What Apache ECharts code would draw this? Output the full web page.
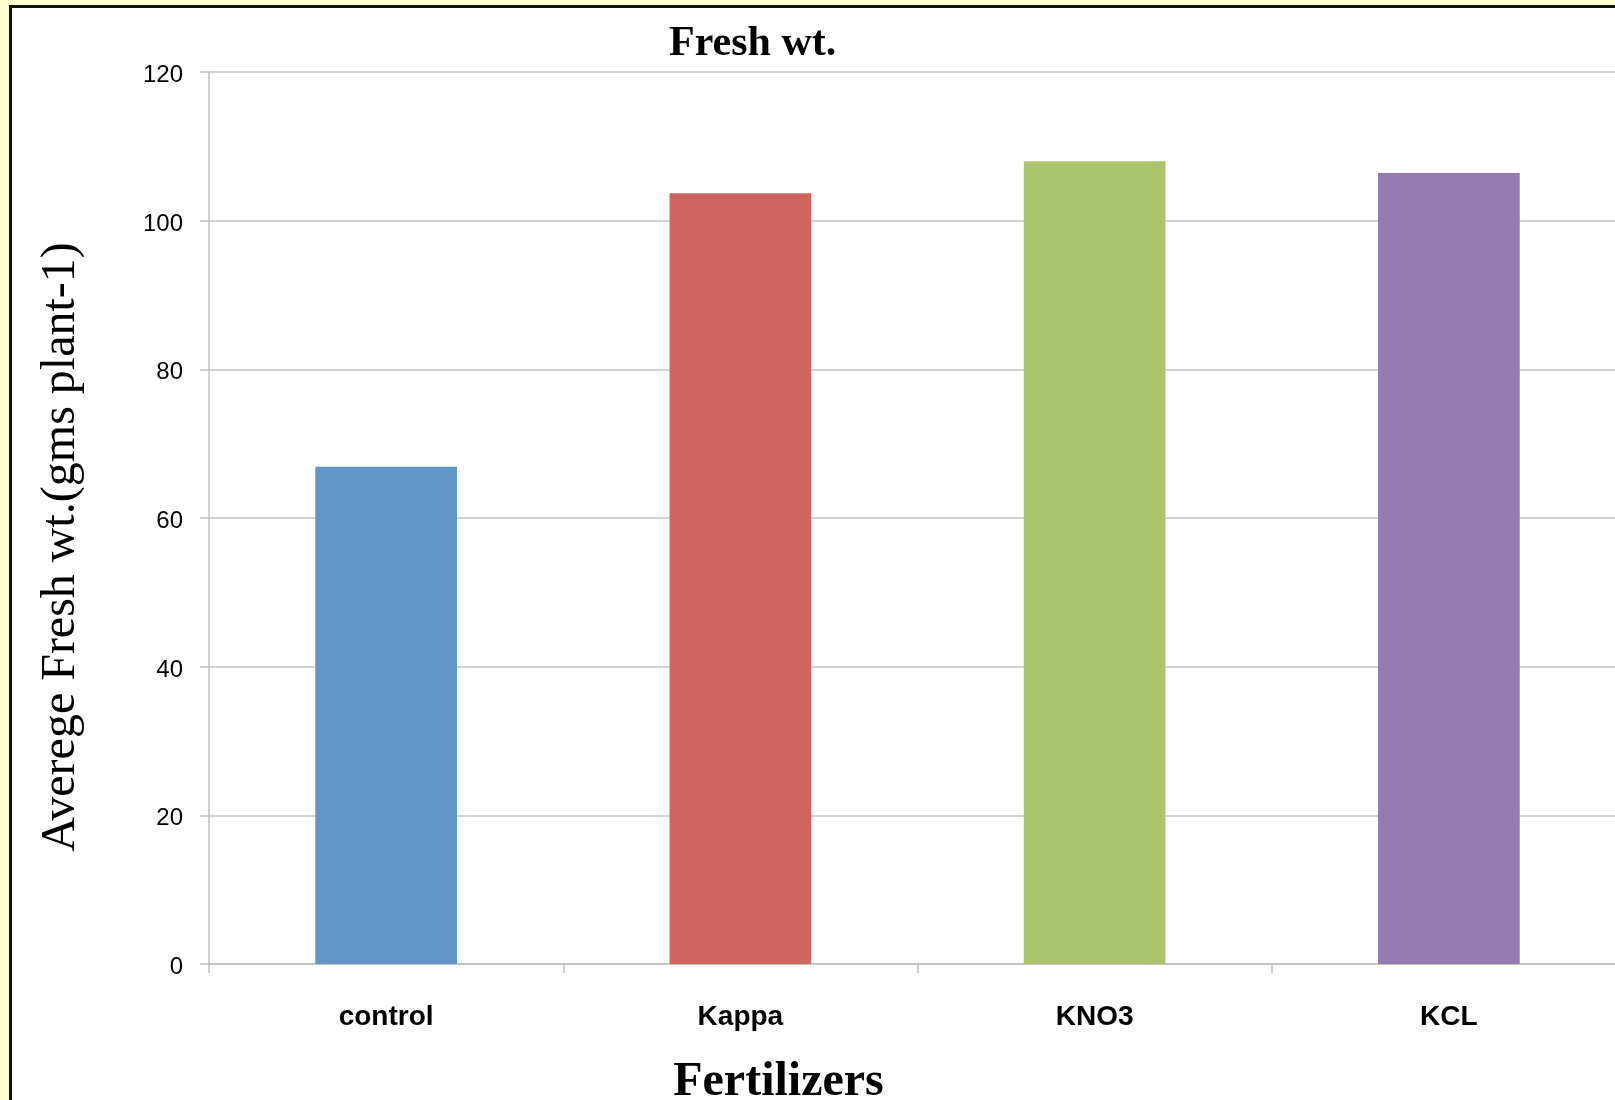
<!DOCTYPE html>
<html>
<head>
<meta charset="utf-8">
<script src="https://cdn.jsdelivr.net/npm/echarts@6/dist/echarts.min.js"></script>
<style>
  html, body { margin: 0; padding: 0; width: 1615px; height: 1100px; overflow: hidden; background: #ffffd0; }
  #frame { position: absolute; left: 9px; top: 5px; width: 1620px; height: 1110px; background: #ffffff; border-left: 3px solid #111; border-top: 3px solid #111; box-sizing: border-box; }
  #chart { position: absolute; left: 0; top: 0; width: 1615px; height: 1100px; }
</style>
</head>
<body>
<div id="frame"></div>
<div id="chart"></div>
<script>
const categories = ['control', 'Kappa', 'KNO3', 'KCL'];
const freshWeight = [66.9, 103.7, 108.0, 106.4];
const barColors = ['#6096c8', '#cc665f', '#abc46c', '#947bb1'];
const yTicks = { min: 0, max: 120, interval: 20 };

const chart = echarts.init(document.getElementById('chart'), null, { renderer: 'canvas' });
chart.setOption({
  backgroundColor: 'transparent',
  animation: false,
  title: {
    text: 'Fresh wt.',
    left: 664,
    top: 18,
    textStyle: { fontFamily: 'Liberation Serif', fontWeight: 'bold', fontSize: 42, color: '#000' }
  },
  grid: { left: 209, top: 72, width: 1417, height: 892, containLabel: false, outerBoundsMode: 'none' },
  xAxis: {
    type: 'category',
    data: categories,
    boundaryGap: true,
    name: 'Fertilizers',
    nameLocation: 'middle',
    nameGap: 95,
    nameTextStyle: { fontFamily: 'Liberation Serif', fontWeight: 'bold', fontSize: 48, color: '#000', padding: [0, 278, 0, 0] },
    axisLine: { show: true, lineStyle: { color: '#bfbfbf', width: 1.5 } },
    axisTick: { show: true, length: 9, lineStyle: { color: '#bfbfbf', width: 1.5 } },
    axisLabel: { margin: 39, fontFamily: 'Liberation Sans', fontWeight: 'bold', fontSize: 28, color: '#000' },
    splitLine: { show: false }
  },
  yAxis: {
    type: 'value',
    min: yTicks.min,
    max: yTicks.max,
    interval: yTicks.interval,
    name: 'Averege Fresh wt.(gms plant-1)',
    nameLocation: 'middle',
    nameRotate: 90,
    nameGap: 124,
    nameTextStyle: { fontFamily: 'Liberation Serif', fontSize: 48, color: '#000', padding: [0, 58, 0, 0] },
    axisLine: { show: true, lineStyle: { color: '#bfbfbf', width: 1.5 } },
    axisTick: { show: true, length: 9, lineStyle: { color: '#bfbfbf', width: 1.5 } },
    axisLabel: {
      margin: 26, color: '#000',
      formatter: '{v|{value}}',
      rich: { v: { fontFamily: 'Liberation Sans', fontSize: 24, color: '#000', padding: [7, 0, 0, 0] } }
    },
    splitLine: { show: true, lineStyle: { color: '#c4c4c4', width: 1.5 } }
  },
  series: [{
    type: 'bar',
    data: freshWeight.map((v, i) => ({ value: v, itemStyle: { color: barColors[i] } })),
    barWidth: '40%'
  }]
});
</script>
</body>
</html>
